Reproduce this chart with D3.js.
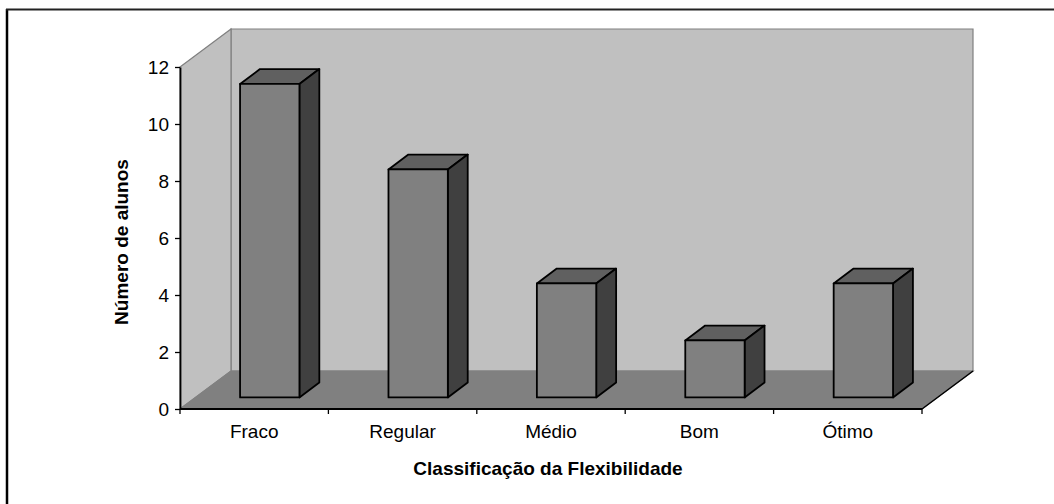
<!DOCTYPE html>
<html>
<head>
<meta charset="utf-8">
<script src="https://cdn.jsdelivr.net/npm/d3@7"></script>
<style>
  body { margin: 0; background: #fff; }
  svg text { font-family: "Liberation Sans", Arial, sans-serif; }
</style>
</head>
<body>
<div id="chart"></div>
<script>
// data
const categories = ['Fraco', 'Regular', 'Médio', 'Bom', 'Ótimo'];
const values = [11, 8, 4, 2, 4];
const yTicks = [0, 2, 4, 6, 8, 10, 12];
const xTitle = 'Classificação da Flexibilidade';
const yTitle = 'Número de alunos';

const width = 1054, height = 504;
const x0 = 180, x1 = 922;      // front plane, left / right
const DX = 51, DY = 38;        // depth offset of the back wall
const d0 = 0.305, d1 = 0.695;  // bar depth inside the box

const svg = d3.select('#chart').append('svg')
  .attr('width', width)
  .attr('height', height);

const x = d3.scaleBand()
  .domain(categories)
  .range([x0, x1])
  .paddingInner(0.6)
  .paddingOuter(0.3);

const xEdge = d3.scaleBand()
  .domain(categories)
  .range([x0, x1]);

const y = d3.scaleLinear()
  .domain([0, 12])
  .range([409, 67]);

// project a front-plane point back into the depth
const P = (px, py, d) => [px + d * DX, py - d * DY];
const poly = pts => 'M' + pts.map(p => p.join(',')).join('L') + 'Z';

// frame
svg.append('line').attr('x1', 7).attr('y1', 9).attr('x2', 7).attr('y2', height)
  .attr('stroke', '#000').attr('stroke-width', 2.5);
svg.append('line').attr('x1', 6).attr('y1', 9.5).attr('x2', width).attr('y2', 9.5)
  .attr('stroke', '#222').attr('stroke-width', 2);

const yTop = y(12), yBot = y(0);

// walls
const walls = svg.append('g').attr('stroke', '#808080').attr('stroke-width', 1.2);
walls.append('path')
  .attr('d', poly([P(x0, yTop, 1), P(x1, yTop, 1), P(x1, yBot, 1), P(x0, yBot, 1)]))
  .attr('fill', '#c0c0c0');
walls.append('path')
  .attr('d', poly([P(x0, yTop, 0), P(x0, yTop, 1), P(x0, yBot, 1), P(x0, yBot, 0)]))
  .attr('fill', '#c0c0c0');
walls.append('path')
  .attr('d', poly([P(x0, yBot, 0), P(x0, yBot, 1), P(x1, yBot, 1), P(x1, yBot, 0)]))
  .attr('fill', '#808080');

// floor right edge is black
svg.append('line')
  .attr('x1', x1).attr('y1', yBot)
  .attr('x2', P(x1, yBot, 1)[0]).attr('y2', P(x1, yBot, 1)[1])
  .attr('stroke', '#000').attr('stroke-width', 1.5);

// bars
const bars = svg.append('g')
  .attr('stroke', '#000')
  .attr('stroke-width', 1.8)
  .attr('stroke-linejoin', 'round')
  .selectAll('g')
  .data(categories.map((c, i) => ({ c, v: values[i] })))
  .join('g');

bars.append('path')
  .attr('fill', '#606060')
  .attr('d', d => {
    const l = x(d.c), r = l + x.bandwidth(), t = y(d.v);
    return poly([P(l, t, d0), P(l, t, d1), P(r, t, d1), P(r, t, d0)]);
  });

bars.append('path')
  .attr('fill', '#404040')
  .attr('d', d => {
    const r = x(d.c) + x.bandwidth(), t = y(d.v);
    return poly([P(r, t, d0), P(r, t, d1), P(r, yBot, d1), P(r, yBot, d0)]);
  });

bars.append('path')
  .attr('fill', '#808080')
  .attr('d', d => {
    const l = x(d.c), r = l + x.bandwidth(), t = y(d.v);
    return poly([P(l, t, d0), P(r, t, d0), P(r, yBot, d0), P(l, yBot, d0)]);
  });

// y axis
const yAxis = svg.append('g')
  .attr('transform', `translate(${x0},0)`)
  .call(d3.axisLeft(y).tickValues(yTicks).tickSize(5).tickPadding(6).tickSizeOuter(0));
yAxis.select('.domain').attr('stroke', '#000').attr('stroke-width', 1.8);
yAxis.selectAll('.tick line').attr('stroke', '#000').attr('stroke-width', 1.3);
yAxis.selectAll('.tick text')
  .attr('font-size', 19)
  .attr('font-family', '"Liberation Sans", Arial, sans-serif')
  .attr('fill', '#000')
  .attr('dy', '0.36em');

// x axis
const xAxis = svg.append('g');
xAxis.append('line')
  .attr('x1', x0).attr('x2', x1).attr('y1', yBot).attr('y2', yBot)
  .attr('stroke', '#000').attr('stroke-width', 1.8);
xAxis.selectAll('.xtick')
  .data(categories.map(c => xEdge(c)).concat([x1]))
  .join('line')
  .attr('class', 'xtick')
  .attr('x1', d => d).attr('x2', d => d)
  .attr('y1', yBot).attr('y2', yBot + 5)
  .attr('stroke', '#000').attr('stroke-width', 1.3);
xAxis.selectAll('text')
  .data(categories)
  .join('text')
  .attr('x', d => xEdge(d) + xEdge.bandwidth() / 2)
  .attr('y', 438)
  .attr('text-anchor', 'middle')
  .attr('font-size', 19)
  .text(d => d);

// titles
svg.append('text')
  .attr('x', 548)
  .attr('y', 475)
  .attr('text-anchor', 'middle')
  .attr('font-size', 19)
  .attr('font-weight', 'bold')
  .text(xTitle);

svg.append('text')
  .attr('transform', 'translate(128,242) rotate(-90)')
  .attr('text-anchor', 'middle')
  .attr('font-size', 19)
  .attr('font-weight', 'bold')
  .text(yTitle);
</script>
</body>
</html>
